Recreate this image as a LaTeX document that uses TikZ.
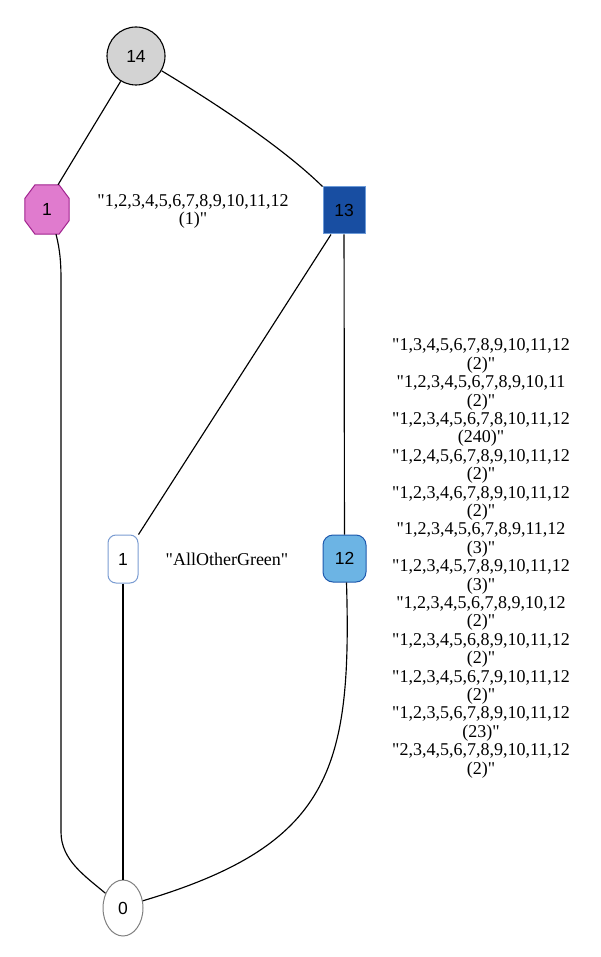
\documentclass[tikz,border=0pt]{standalone}
\usepackage{fontspec}
\setmainfont{Liberation Serif}
\newfontfamily\nodefont{Liberation Sans}
\usetikzlibrary{shapes.geometric}
\definecolor{grayfill}{HTML}{D3D3D3}
\definecolor{orchidfill}{HTML}{E07BCE}
\definecolor{orchidline}{HTML}{A0228E}
\definecolor{navyfill}{HTML}{184EA2}
\definecolor{navyline}{HTML}{6C9AD8}
\definecolor{skyfill}{HTML}{6CB4E4}
\definecolor{skyline}{HTML}{1F5AAE}
\definecolor{paleline}{HTML}{7A9CD2}
\newcommand\qq{\textquotedbl}
\tikzset{
  vlabel/.style={font=\nodefont\fontsize{17.5}{20}\selectfont, inner sep=0pt},
  elabel/.style={font=\fontsize{18}{18.4}\selectfont, align=center, inner sep=0pt},
  conn/.style={draw=black, line width=1.15pt},
}
\begin{document}
\begin{tikzpicture}[x=1pt,y=-1pt]
\useasboundingbox (0,0) rectangle (600,957);
% vertices
\node[vlabel, circle, draw=black, line width=1.1pt, fill=grayfill, minimum size=58pt] (n14) at (136,56) {14};
\node[vlabel, rectangle, minimum width=44pt, minimum height=49pt] (o1) at (47,209.5) {};
\fill[orchidfill, draw=orchidline, line width=1pt]
  ([xshift=-12pt]o1.north) -- ([xshift=12pt]o1.north)
  -- ([yshift=11pt]o1.east) -- ([yshift=-11pt]o1.east)
  -- ([xshift=12pt]o1.south) -- ([xshift=-12pt]o1.south)
  -- ([yshift=-11pt]o1.west) -- ([yshift=11pt]o1.west) -- cycle;
\node[vlabel] at (o1) {1};
\node[vlabel, rectangle, draw=navyline, line width=1pt, fill=navyfill, minimum width=42pt, minimum height=47pt] (n13) at (344,210.5) {13};
\node[vlabel, rectangle, rounded corners=8pt, draw=paleline, line width=1pt, fill=white, minimum width=30pt, minimum height=48pt] (w1) at (123,559) {1};
\node[vlabel, rectangle, rounded corners=10pt, draw=skyline, line width=1pt, fill=skyfill, minimum width=43pt, minimum height=47pt] (n12) at (344.5,558.5) {12};
\node[vlabel, ellipse, draw=gray, line width=1pt, fill=white, minimum width=40pt, minimum height=56pt] (n0) at (123,908) {0};
% edges
\draw[conn] (n14) -- ([xshift=11pt]o1.north);
\draw[conn] (n14.-30) .. controls (210,100) and (280,145) .. (n13.north west);
\draw[conn] ([xshift=9pt]o1.south) .. controls (60,250) and (61,262) .. (61,280)
  -- (61,832) .. controls (61,860) and (85,876) .. (n0.140);
\draw[conn] ([xshift=-13pt]n13.south) -- (w1.north east);
\draw[conn] (n13) -- (n12);
\draw[conn] (w1) -- (n0);
\draw[conn] ([xshift=2pt]n12.south) .. controls (352,770) and (330,845) .. (n0.20);
% edge labels
\node[elabel] (lab1) at (193,211.5) {\qq1,2,3,4,5,6,7,8,9,10,11,12\\(1)\qq};
\node[elabel] (lab2) at (227,559) {\qq AllOtherGreen\qq};
\node[elabel] (lab3) at (481,558.5) {%
\qq1,3,4,5,6,7,8,9,10,11,12\\(2)\qq\\
\qq1,2,3,4,5,6,7,8,9,10,11\\(2)\qq\\
\qq1,2,3,4,5,6,7,8,10,11,12\\(240)\qq\\
\qq1,2,4,5,6,7,8,9,10,11,12\\(2)\qq\\
\qq1,2,3,4,6,7,8,9,10,11,12\\(2)\qq\\
\qq1,2,3,4,5,6,7,8,9,11,12\\(3)\qq\\
\qq1,2,3,4,5,7,8,9,10,11,12\\(3)\qq\\
\qq1,2,3,4,5,6,7,8,9,10,12\\(2)\qq\\
\qq1,2,3,4,5,6,8,9,10,11,12\\(2)\qq\\
\qq1,2,3,4,5,6,7,9,10,11,12\\(2)\qq\\
\qq1,2,3,5,6,7,8,9,10,11,12\\(23)\qq\\
\qq2,3,4,5,6,7,8,9,10,11,12\\(2)\qq};
\end{tikzpicture}
\end{document}
